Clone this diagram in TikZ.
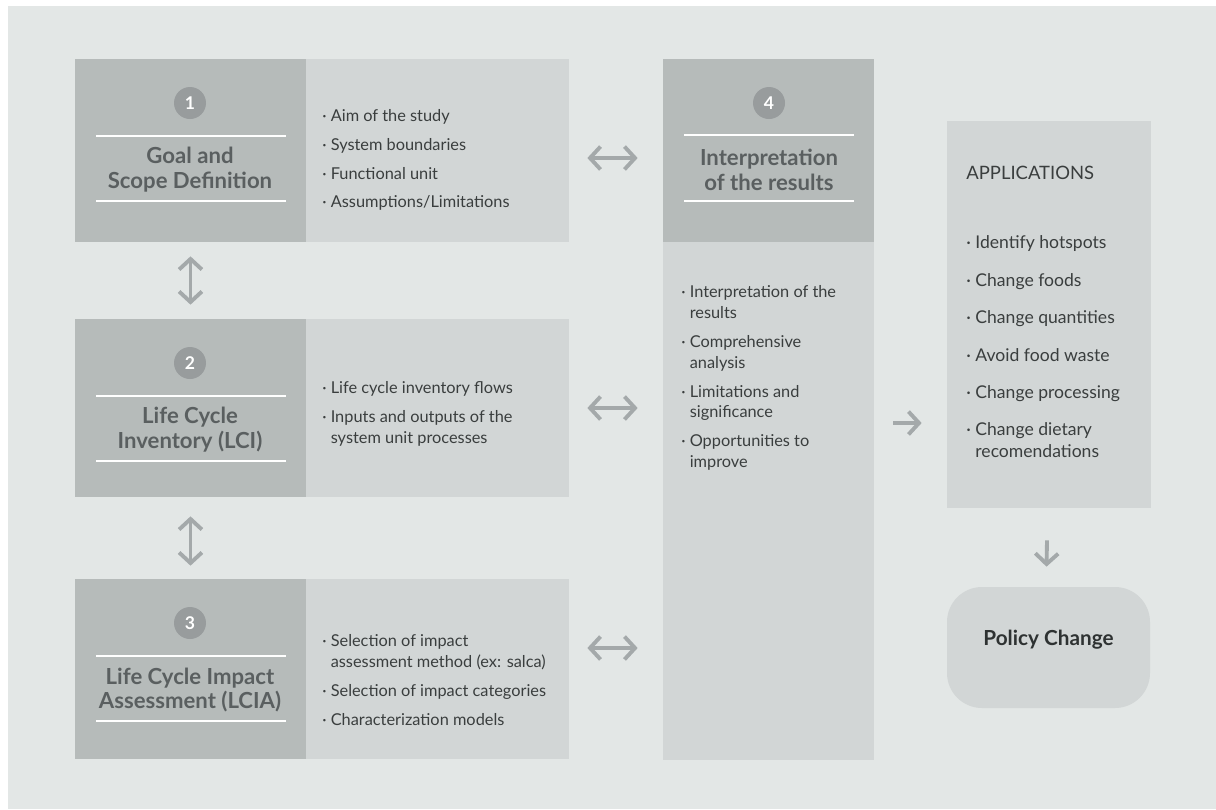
\documentclass[tikz,border=0pt]{standalone}
\usepackage{fontspec}
\setmainfont{Lato}
\usetikzlibrary{arrows.meta, positioning, fit, calc}
\definecolor{lcabg}{HTML}{E3E7E6}
\definecolor{lcadark}{HTML}{B6BBBA}
\definecolor{lcalight}{HTML}{D2D6D6}
\definecolor{lcacircle}{HTML}{989C9D}
\definecolor{lcaarrow}{HTML}{A4A9AA}
\definecolor{lcatitle}{HTML}{5A5F60}
\definecolor{lcatext}{HTML}{3A3E3E}
\definecolor{lcapolicy}{HTML}{2E3232}

\newcommand{\bul}{·\ }
\newcommand{\ind}{\phantom{·\ }}

\tikzset{
  darkbox/.style={fill=lcadark, inner sep=0pt},
  lightbox/.style={fill=lcalight, inner sep=0pt},
  numcirc/.style={circle, fill=lcacircle, minimum size=0.64cm, inner sep=0pt,
    text=white, font=\fontsize{10}{12}\selectfont\bfseries},
  titletext/.style={align=center, inner sep=0pt, text=lcatitle,
    font=\fontsize{12.6}{14.2}\selectfont\bfseries},
  itemtext/.style={align=left, anchor=west, inner sep=0pt, text=lcatext,
    font=\fontsize{9.3}{11.9}\selectfont},
  sepline/.style={white, line width=0.6pt},
  dbl/.style={lcaarrow, line width=2.2pt,
    {Straight Barb[length=6pt,width=13pt]}-{Straight Barb[length=6pt,width=13pt]}},
  sgl/.style={lcaarrow, line width=2.2pt, -{Straight Barb[length=6pt,width=13pt]}},
}

\begin{document}
\begin{tikzpicture}[x=0.02cm, y=-0.02cm]
  \fill[white] (0,0) rectangle (1216,809);
  \fill[lcabg] (8,6) rectangle (1216,809);
  \useasboundingbox (0,0) rectangle (1216,809);

  % the three steps on the left
  \foreach \n/\top/\bot/\ttl in {1/59/242/{Goal and\\Scope Definition},
      2/319/497/{Life Cycle\\Inventory (LCI)},
      3/579/759/{Life Cycle Impact\\Assessment (LCIA)}} {
    \node[darkbox, fit={(75,\top) (306,\bot)}] (dark\n) {};
    \node[lightbox, fit={(306,\top) (569,\bot)}] (light\n) {};
    \node[numcirc] (num\n) at (190,\top+44) {\n};
    \draw[sepline] (96,\top+77) -- (286,\top+77);
    \draw[sepline] (96,\top+142) -- (286,\top+142);
    \node[titletext] (title\n) at (190,\top+111) {\ttl};
  }
  \node[itemtext] (items1) at (322,160) {\bul Aim of the study\\[4.5pt]
    \bul System boundaries\\[4.5pt]
    \bul Functional unit\\[4.5pt]
    \bul Assumptions/Limitations};
  \node[itemtext] (items2) at (322,414) {\bul Life cycle inventory flows\\[4.5pt]
    \bul Inputs and outputs of the\\
    \ind system unit processes};
  \node[itemtext] (items3) at (322,680) {\bul Selection of impact\\
    \ind assessment method (ex: salca)\\[4.5pt]
    \bul Selection of impact categories\\[4.5pt]
    \bul Characterization models};

  % step 4
  \node[darkbox, fit={(663,59) (874,242)}] (interphead) {};
  \node[lightbox, fit={(663,242) (874,760)}] (interp) {};
  \node[numcirc] (num4) at (769,103) {4};
  \draw[sepline] (684,135) -- (854,135);
  \draw[sepline] (684,201) -- (854,201);
  \node[titletext] (title4) at (769,170) {Interpretation\\of the results};
  \node[itemtext] (items4) at (681,378) {\bul Interpretation of the\\
    \ind results\\[4.5pt]
    \bul Comprehensive\\
    \ind analysis\\[4.5pt]
    \bul Limitations and\\
    \ind significance\\[4.5pt]
    \bul Opportunities to\\
    \ind improve};

  % applications and policy
  \node[lightbox, fit={(947,121) (1151,508)}] (apps) {};
  \node[anchor=base west, inner sep=0pt, text=lcatext,
    font=\fontsize{10.5}{12}\selectfont] (appstitle) at (966,179) {APPLICATIONS};
  \node[itemtext, font=\fontsize{10}{12.5}\selectfont] (appsitems) at (966,347)
    {\bul Identify hotspots\\[8.8pt]
    \bul Change foods\\[8.8pt]
    \bul Change quantities\\[8.8pt]
    \bul Avoid food waste\\[8.8pt]
    \bul Change processing\\[8.8pt]
    \bul Change dietary\\
    \ind recomendations};
  \node[lightbox, rounded corners=0.7cm, fit={(947,587) (1150,708)},
    text=lcapolicy, font=\fontsize{11.8}{14.2}\selectfont\bfseries] (policy) {Policy Change};

  % arrows
  \draw[dbl] ($(light1.east)+(18,7.5)$) -- ($(light1.east -| interp.west)+(-25,7.5)$);
  \draw[dbl] ($(light2.east)+(18,0)$) -- ($(light2.east -| interp.west)+(-25,0)$);
  \draw[dbl] ($(light3.east)+(18,-21)$) -- ($(light3.east -| interp.west)+(-25,-21)$);
  \draw[dbl] ($(dark1.south)+(0,14)$) -- ($(dark2.north)+(0,-14)$);
  \draw[dbl] ($(dark2.south)+(0,19)$) -- ($(dark3.north)+(0,-13)$);
  \draw[sgl] ($(interp.east |- 0,423)+(19,0)$) -- ($(apps.west |- 0,423)+(-25,0)$);
  \draw[sgl] ($(apps.south)+(-2,32)$) -- ($(policy.north)+(-2,-20)$);
\end{tikzpicture}
\end{document}
